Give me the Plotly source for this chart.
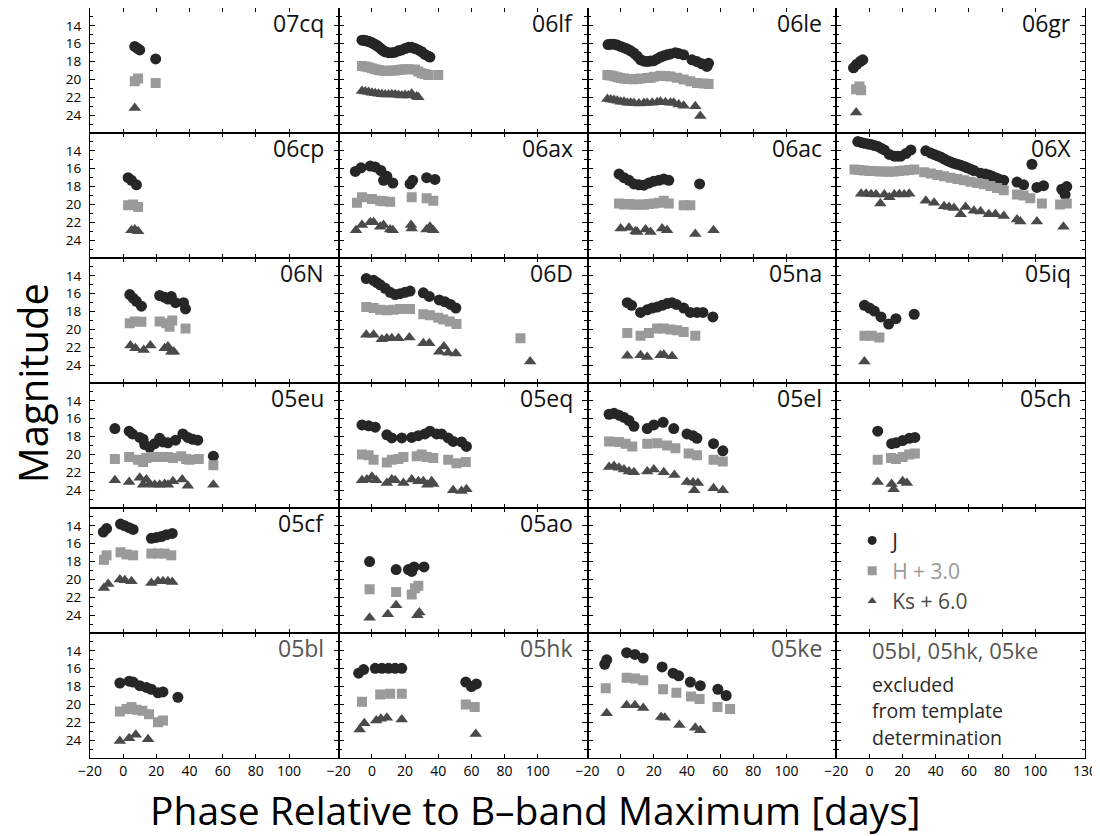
import plotly.graph_objects as go
from plotly.subplots import make_subplots

FONT = "Open Sans"

# ---- data: (phase [days], displayed magnitude) ; H shown as H+3.0, Ks as Ks+6.0 ----
J_07cq = [(7, 16.3), (8.4, 16.5), (10, 16.7), (19.6, 17.7)]
H_07cq = [(7, 20.2), (9, 19.9), (19.6, 20.4)]
K_07cq = [(7, 23.2)]

J_06lf = [(-6, 15.6), (-5, 15.6), (-4, 15.65), (-3, 15.7), (-2, 15.75), (-1, 15.8), (0, 15.9), (1, 16.0),
          (2, 16.1), (3, 16.2), (4, 16.35), (5, 16.5), (6, 16.65), (7, 16.8), (8, 16.9), (10, 17.0),
          (12, 17.0), (14, 16.95), (16, 16.8), (18, 16.7), (20, 16.55), (22, 16.4), (24, 16.4),
          (26, 16.55), (28, 16.7), (30, 16.9), (32, 17.2), (34, 17.4), (35, 17.5)]
H_06lf = [(-6, 18.5), (-4, 18.55), (-2, 18.65), (0, 18.75), (2, 18.85), (4, 18.95), (6, 19.0), (8, 19.05),
          (10, 19.05), (12, 19.0), (14, 19.0), (16, 18.95), (18, 18.9), (20, 18.85), (22, 18.85),
          (26, 18.9), (28, 19.1), (30, 19.3), (32, 19.4), (34, 19.5), (40, 19.5)]
K_06lf = [(-6, 21.3), (-4, 21.35), (-2, 21.4), (0, 21.5), (2, 21.55), (4, 21.6), (6, 21.65), (8, 21.7),
          (10, 21.7), (12, 21.65), (14, 21.7), (16, 21.75), (18, 21.8), (20, 21.75), (22, 21.8),
          (24, 21.6), (27, 21.9), (28, 22.0)]

J_06le = [(-7.6, 16.1), (-6, 16.07), (-4, 16.05), (-2, 16.15), (0, 16.3), (2, 16.45), (4, 16.6), (6, 16.8),
          (8, 17.05), (10, 17.4), (12, 17.8), (14, 17.95), (16, 18.0), (18, 17.95), (20, 17.9), (22, 17.7),
          (24, 17.5), (26, 17.35), (28, 17.25), (30, 17.15), (33, 17.0), (35, 17.1), (38, 17.25),
          (43, 17.8), (46, 18.0), (49, 18.25), (52, 18.55), (53, 18.2)]
H_06le = [(-8, 19.5), (-6, 19.55), (-4, 19.65), (-2, 19.75), (0, 19.85), (2, 19.9), (4, 19.95), (8, 19.97),
          (10, 19.95), (12, 19.9), (16, 19.85), (18, 19.8), (20, 19.7), (24, 19.6), (27, 19.62), (30, 19.67),
          (34, 19.8), (38, 20.0), (42, 20.2), (46, 20.4), (50, 20.45), (53, 20.5)]
K_06le = [(-8, 22.2), (-6, 22.25), (-4, 22.3), (-2, 22.4), (0, 22.5), (2, 22.5), (4, 22.6), (6, 22.6),
          (8, 22.65), (11, 22.7), (14, 22.65), (16, 22.65), (19, 22.6), (22, 22.55), (24, 22.5),
          (27, 22.55), (30, 22.6), (32, 22.6), (35, 22.8), (38, 22.95), (45, 23.0), (48, 24.1)]

J_06gr = [(-9.6, 18.7), (-7.6, 18.3), (-5.6, 18.0), (-4, 17.8)]
H_06gr = [(-8, 21.1), (-6, 20.8), (-5, 21.2)]
K_06gr = [(-8, 23.7)]

J_06cp = [(3, 17.0), (5, 17.3), (8, 17.8)]
H_06cp = [(3, 20.1), (6, 20.0), (9, 20.3)]
K_06cp = [(5, 22.9), (7, 22.8), (9, 23.0)]

J_06ax = [(-10, 16.3), (-6.6, 15.9), (-1, 15.7), (2, 15.8), (5.4, 16.2), (7, 17.3), (9, 16.85),
          (12.6, 17.6), (23, 17.7), (24.6, 17.3), (33, 17.0), (38, 17.2)]
H_06ax = [(-9, 19.8), (-6, 19.2), (0, 19.4), (5, 19.6), (7, 19.65), (11, 19.7), (24, 19.2), (33, 19.3), (37, 19.6)]
K_06ax = [(-9.6, 22.9), (-6, 22.3), (-1, 22.0), (1, 22.0), (5, 22.5), (7, 22.3), (11, 22.8), (12.6, 22.9),
          (24, 22.7), (23.6, 22.3), (33, 22.8), (35, 22.5), (37, 22.9)]

J_06ac = [(-1, 16.6), (2, 17.0), (5, 17.3), (8, 17.7), (11, 17.8), (14, 17.85), (17, 17.6), (20, 17.4),
          (23, 17.3), (26, 17.15), (29, 17.3), (47.6, 17.7)]
H_06ac = [(-1, 19.9), (2, 20.0), (5, 19.95), (8, 20.05), (11, 20.0), (14, 20.05), (17, 19.95), (20, 19.9),
          (23, 19.8), (26, 19.6), (29, 19.9), (38, 20.1), (42, 20.1)]
K_06ac = [(0, 22.7), (5, 22.6), (9, 23.0), (10, 23.1), (15, 22.8), (18, 23.1), (25, 22.7), (28, 22.9),
          (45, 23.3), (56, 22.9)]

J_06X = [(-7, 12.96), (-5, 13.05), (-3, 13.15), (-1, 13.22), (1, 13.3), (3, 13.4), (5, 13.5), (7, 13.7),
         (9, 13.9), (12, 14.4), (15, 14.6), (17, 14.6), (19, 14.6), (22, 14.3), (25, 13.9), (34, 14.0),
         (37, 14.25), (39, 14.4), (41, 14.55), (43, 14.7), (45, 14.9), (47, 15.1), (49, 15.25), (51, 15.4),
         (53, 15.5), (55, 15.6), (57, 15.75), (59, 15.9), (61, 16.05), (63, 16.2), (67, 16.5), (70, 16.6),
         (72, 16.7), (74, 16.85), (76, 17.0), (78, 17.15), (81, 17.3), (89, 17.5), (93, 17.8), (98, 15.5),
         (101, 18.1), (105, 17.9), (116, 18.3), (119, 18.0), (118, 18.9)]
H_06X = [(-9, 16.1), (-6, 16.15), (-3, 16.2), (0, 16.25), (3, 16.25), (6, 16.3), (9, 16.3), (12, 16.35),
         (15, 16.3), (18, 16.25), (21, 16.2), (24, 16.15), (27, 16.1), (33, 16.4), (37, 16.55), (41, 16.7),
         (45, 16.85), (49, 17.0), (53, 17.15), (57, 17.3), (61, 17.45), (65, 17.6), (69, 17.75), (73, 17.95),
         (77, 18.15), (81, 18.4), (89, 18.9), (93, 19.0), (97, 19.3), (104, 19.9), (115, 20.0), (119, 19.9)]
K_06X = [(-5, 18.8), (-2, 18.8), (1, 18.85), (4, 18.9), (6.6, 19.9), (9, 18.9), (12, 19.2), (15, 18.9),
         (18, 18.85), (21, 18.9), (24, 18.8), (34, 19.6), (39, 19.8), (45, 20.2), (48, 20.3), (51, 20.4),
         (55, 21.1), (58, 20.3), (63, 20.7), (67, 20.8), (72, 21.1), (76, 21.1), (81, 21.3), (89, 21.7),
         (91, 21.9), (101, 21.9), (117, 22.5)]

J_06N = [(4, 16.1), (6, 16.5), (8, 16.85), (11, 17.4), (22, 16.2), (25, 16.4), (27, 16.6), (29, 16.3),
         (31.6, 17.0), (36.4, 17.0), (37.6, 17.7)]
H_06N = [(4, 19.3), (7, 19.1), (11, 19.15), (22, 19.1), (26, 19.3), (28, 19.7), (29.6, 19.0), (37.6, 19.9)]
K_06N = [(4.4, 21.8), (7.4, 22.1), (12.4, 22.3), (16.4, 21.8), (25, 22.1), (27, 21.9), (29, 22.5), (30.6, 22.5)]

J_06D = [(-3.4, 14.3), (1, 14.5), (3, 14.75), (5, 15.0), (8, 15.4), (11, 15.85), (14, 16.1), (17, 16.0),
         (20, 15.85), (23, 15.7), (31, 15.9), (34.6, 16.3), (40.6, 16.7), (44, 16.9), (47.4, 17.2), (50.6, 17.6)]
H_06D = [(-3.4, 17.5), (1, 17.6), (5, 17.8), (9, 17.85), (13, 17.8), (17, 17.7), (20, 17.7), (23, 17.7),
         (31, 18.3), (35, 18.4), (40, 18.7), (43, 18.9), (47, 19.1), (51, 19.4), (89.6, 21.0)]
K_06D = [(-3.4, 20.6), (1, 20.6), (6, 21.1), (9, 21.0), (12, 21.0), (16, 21.0), (22.6, 20.9), (31, 21.55),
         (34.6, 21.55), (40.6, 22.5), (43.4, 21.9), (46, 22.6), (50.6, 22.7), (95.4, 23.6)]

J_05na = [(4, 17.0), (6.6, 17.3), (12, 18.1), (16, 17.8), (19, 17.6), (22, 17.5), (25, 17.3), (28, 17.1),
          (31, 17.0), (33.6, 17.2), (38, 17.6), (42, 18.1), (46, 18.1), (49.6, 18.1), (55.6, 18.6)]
H_05na = [(4, 20.4), (12, 20.7), (17, 20.4), (22, 19.9), (26, 19.9), (30, 20.0), (34, 20.1), (38, 20.3), (45, 20.7)]
K_05na = [(4, 22.96), (12, 22.9), (16, 23.1), (24, 22.9), (26, 22.85), (31, 23.0)]

J_05iq = [(-3, 17.3), (0, 17.6), (3, 17.95), (7, 18.6), (11.6, 19.4), (16, 18.8), (27, 18.3)]
H_05iq = [(-3, 20.7), (1.4, 20.7), (6, 20.9)]
K_05iq = [(-3, 23.6)]

J_05eu = [(-5, 17.1), (3.6, 17.4), (5.6, 17.7), (10, 18.1), (12, 18.3), (13, 18.9), (16, 19.2), (19, 18.8),
          (22, 18.2), (24, 18.6), (27, 18.7), (31.6, 18.4), (36, 17.7), (39, 18.1), (42, 18.3), (45, 18.4),
          (54.4, 20.2)]
H_05eu = [(-5, 20.5), (3.6, 20.3), (9, 20.6), (12, 20.85), (14, 20.4), (17, 20.3), (21, 20.3), (27, 20.3),
          (30, 20.4), (35, 20.2), (38, 20.5), (40, 20.6), (45.6, 20.5), (54.4, 21.2)]
K_05eu = [(-5, 22.9), (3.6, 23.1), (10, 22.6), (12, 23.4), (14, 22.8), (16, 23.3), (19, 23.4), (22, 23.4),
          (25, 23.3), (27, 23.4), (30, 23.0), (35.6, 22.8), (39, 23.5), (54.4, 23.4)]

J_05eq = [(-6, 16.7), (-2, 16.8), (2, 16.95), (9, 17.8), (12, 18.15), (18, 18.15), (24, 18.1), (28, 17.9),
          (32, 17.7), (35, 17.4), (39, 17.7), (42, 17.7), (46, 18.15), (49, 18.55), (54, 18.6), (57, 19.1)]
H_05eq = [(-6, 20.0), (-2, 20.1), (1, 20.6), (9, 20.9), (12, 20.6), (16, 20.5), (19, 20.3), (27, 20.2),
          (30, 20.0), (33, 20.3), (37, 20.4), (46, 20.6), (51, 21.0), (56.6, 20.85)]
K_05eq = [(-6, 22.9), (-3, 22.8), (0, 22.5), (2.6, 22.9), (9, 23.2), (12, 22.8), (14, 22.9), (19, 23.2),
          (24, 22.8), (28, 23.0), (31, 23.0), (33.4, 23.4), (36, 23.0), (37, 23.3), (49, 24.0), (54, 24.1),
          (57, 23.9)]

J_05el = [(-7, 15.5), (-4, 15.4), (-1, 15.6), (2, 15.85), (5, 16.2), (8, 16.85), (16, 17.1), (20, 16.7),
          (25.6, 16.4), (32, 17.1), (40, 17.7), (43.6, 17.9), (46, 18.2), (56, 18.8), (61.6, 19.6)]
H_05el = [(-7, 18.55), (-1, 18.6), (3, 18.8), (7, 19.1), (16, 18.8), (22, 18.75), (28, 19.0), (33, 19.3),
          (41, 19.9), (46, 20.1), (56, 20.6), (61.6, 20.8)]
K_05el = [(-7, 21.4), (-4, 21.3), (-1, 21.5), (2, 21.7), (5, 21.9), (8, 22.0), (16, 21.9), (20, 21.7),
          (26, 22.0), (32.4, 22.3), (40, 23.1), (43.6, 23.15), (44.4, 24.0), (46.6, 23.2), (56, 23.8), (61.6, 24.0)]

J_05ch = [(5, 17.4), (13.4, 18.8), (16, 18.7), (20, 18.45), (24, 18.2), (27.4, 18.1)]
H_05ch = [(5, 20.6), (13, 20.4), (16, 20.5), (20, 20.3), (24, 20.0), (27.4, 19.9)]
K_05ch = [(5, 23.1), (13.4, 23.3), (14.6, 23.9), (20, 23.0), (22.6, 23.2)]

J_05cf = [(-12, 14.7), (-10, 14.3), (-1.6, 13.8), (1, 14.0), (3.6, 14.2), (6, 14.4), (17, 15.4), (20, 15.3),
          (23, 15.2), (26, 15.0), (29.6, 14.85)]
H_05cf = [(-11.6, 17.8), (-10, 17.3), (-1.6, 16.96), (2, 17.2), (6, 17.3), (17, 17.1), (21, 17.1), (25, 17.1), (29, 17.3)]
K_05cf = [(-11.6, 20.96), (-9, 20.5), (-2, 20.0), (1, 20.1), (5, 20.2), (17, 20.4), (21, 20.2), (24, 20.2),
          (27, 20.2), (29.6, 20.3)]

J_05ao = [(-1.4, 18.0), (14.6, 18.9), (22, 18.9), (24, 19.1), (25.4, 18.6), (31.4, 18.6)]
H_05ao = [(-1.4, 21.1), (14.6, 21.4), (24, 21.7), (26, 21.0), (28, 20.7)]
K_05ao = [(-1.4, 24.3), (9.6, 23.9), (14.6, 22.9), (27.4, 24.0), (28.6, 23.7)]

J_05bl = [(-2, 17.6), (3.6, 17.4), (6, 17.5), (10, 17.9), (14, 18.1), (17, 18.3), (21, 18.7), (24, 18.6), (33, 19.2)]
H_05bl = [(-2, 20.8), (2, 20.5), (5, 20.3), (8, 20.6), (11.6, 20.7), (15.6, 21.1), (21, 22.0), (24, 21.8)]
K_05bl = [(-2, 24.1), (3.6, 23.8), (7.6, 23.4), (15, 23.9)]

J_05hk = [(-8, 16.5), (-5, 16.1), (2, 15.96), (6, 15.96), (10, 15.96), (14, 15.96), (18, 15.96),
          (56.6, 17.5), (60, 18.0), (63, 17.7)]
H_05hk = [(-6, 19.7), (5, 18.9), (11, 18.8), (18, 18.8), (56.6, 20.0), (62, 20.3)]
K_05hk = [(-7.4, 22.8), (-4.6, 22.1), (2.6, 21.8), (5.4, 21.6), (9, 21.5), (18, 21.7), (62.6, 23.3)]

J_05ke = [(-9.6, 15.5), (-8.4, 15.0), (3.6, 14.2), (8.6, 14.4), (13.6, 14.8), (25, 15.8), (31.6, 16.5),
          (35, 16.8), (42, 17.5), (48, 17.9), (58.6, 18.3), (63.6, 19.0)]
H_05ke = [(-9, 18.2), (3.6, 17.0), (8.6, 17.1), (13.6, 17.3), (25.6, 18.3), (33.6, 18.7), (42.4, 19.1),
          (47.6, 19.4), (58.4, 20.3), (66, 20.5)]
K_05ke = [(-8.4, 21.0), (3.6, 20.1), (8.6, 20.1), (13.6, 20.4), (24.4, 21.4), (26.6, 21.5), (35.4, 22.3),
          (45, 22.6), (48, 22.9)]

# panel layout (row-major, 6 rows x 4 cols); None = empty, "LEG" = legend panel, "TXT" = note panel
panel_names = ["07cq", "06lf", "06le", "06gr",
               "06cp", "06ax", "06ac", "06X",
               "06N", "06D", "05na", "05iq",
               "05eu", "05eq", "05el", "05ch",
               "05cf", "05ao", None, "LEG",
               "05bl", "05hk", "05ke", "TXT"]
excluded = ["05bl", "05hk", "05ke"]
panel_data = {
    "07cq": (J_07cq, H_07cq, K_07cq), "06lf": (J_06lf, H_06lf, K_06lf), "06le": (J_06le, H_06le, K_06le),
    "06gr": (J_06gr, H_06gr, K_06gr), "06cp": (J_06cp, H_06cp, K_06cp), "06ax": (J_06ax, H_06ax, K_06ax),
    "06ac": (J_06ac, H_06ac, K_06ac), "06X": (J_06X, H_06X, K_06X), "06N": (J_06N, H_06N, K_06N),
    "06D": (J_06D, H_06D, K_06D), "05na": (J_05na, H_05na, K_05na), "05iq": (J_05iq, H_05iq, K_05iq),
    "05eu": (J_05eu, H_05eu, K_05eu), "05eq": (J_05eq, H_05eq, K_05eq), "05el": (J_05el, H_05el, K_05el),
    "05ch": (J_05ch, H_05ch, K_05ch), "05cf": (J_05cf, H_05cf, K_05cf), "05ao": (J_05ao, H_05ao, K_05ao),
    "05bl": (J_05bl, H_05bl, K_05bl), "05hk": (J_05hk, H_05hk, K_05hk), "05ke": (J_05ke, H_05ke, K_05ke),
}

band_names = ["J", "H + 3.0", "Ks + 6.0"]
band_colors = ["#262626", "#9a9a9a", "#4a4a4a"]
band_symbols = ["circle", "square", "triangle-up"]
band_sizes = [11, 10, 11]
legend_sizes = [9, 9, 8]

x_ticks = [-20, 0, 20, 40, 60, 80, 100]
x_ticks_last = [-20, 0, 20, 40, 60, 80, 100, 130]
y_ticks = [14, 16, 18, 20, 22, 24]

note_lines = ["excluded", "from template", "determination"]
note_line_y = [0.59, 0.378, 0.166]


def dom(axis, n):
    return f"{axis} domain" if n == 1 else f"{axis}{n} domain"


fig = make_subplots(rows=6, cols=4, horizontal_spacing=0, vertical_spacing=0)

for idx, name in enumerate(panel_names):
    r, c = idx // 4 + 1, idx % 4 + 1
    if name in panel_data:
        for b, pts in enumerate(panel_data[name]):
            fig.add_trace(go.Scatter(
                x=[p[0] for p in pts], y=[p[1] for p in pts], mode="markers",
                marker=dict(symbol=band_symbols[b], size=band_sizes[b], color=band_colors[b], line=dict(width=0)),
                showlegend=False, hoverinfo="skip"), row=r, col=c)
    else:
        fig.add_trace(go.Scatter(x=[None], y=[None], mode="markers", showlegend=False), row=r, col=c)

# legend entries (no data drawn)
for b in range(3):
    fig.add_trace(go.Scatter(
        x=[None], y=[None], mode="markers", name=f"<span style='color:{band_colors[b]}'>{band_names[b]}</span>",
        marker=dict(symbol=band_symbols[b], size=legend_sizes[b], color=band_colors[b]),
        showlegend=True), row=1, col=1)

for idx, name in enumerate(panel_names):
    r, c = idx // 4 + 1, idx % 4 + 1
    fig.update_xaxes(row=r, col=c, range=[-20, 130], tickmode="array",
                     tickvals=(x_ticks_last if c == 4 else x_ticks),
                     showticklabels=(r == 6), ticks="inside", ticklen=4, tickwidth=1, tickcolor="black",
                     showline=True, linecolor="black", linewidth=1.3, mirror="ticks",
                     showgrid=False, zeroline=False,
                     tickfont=dict(family=FONT, size=14, color="black"))
    fig.update_yaxes(row=r, col=c, range=[26, 12], tickmode="array", tickvals=y_ticks,
                     showticklabels=(c == 1), ticks="inside", ticklen=5, tickwidth=1, tickcolor="black",
                     minor=dict(ticks="inside", ticklen=3, tickwidth=1, tickcolor="black", dtick=1, tick0=12,
                                showgrid=False),
                     showline=True, linecolor="black", linewidth=1.3, mirror="ticks",
                     showgrid=False, zeroline=False, ticklabelstandoff=5,
                     tickfont=dict(family=FONT, size=13.5, color="black"))
    if name in panel_data:
        n = idx + 1
        fig.add_annotation(text=name, xref=dom("x", n), yref=dom("y", n),
                           x=0.95, y=0.882, xanchor="right", yanchor="middle", showarrow=False,
                           font=dict(family=FONT, size=23, color=("#555555" if name in excluded else "#111111")))

# note panel
n_txt = panel_names.index("TXT") + 1
fig.add_annotation(text="05bl, 05hk, 05ke", xref=dom("x", n_txt), yref=dom("y", n_txt),
                   x=0.135, y=0.865, xanchor="left", yanchor="middle", showarrow=False,
                   font=dict(family=FONT, size=22, color="#555555"))
for line, ly in zip(note_lines, note_line_y):
    fig.add_annotation(text=line, xref=dom("x", n_txt), yref=dom("y", n_txt),
                       x=0.135, y=ly, xanchor="left", yanchor="middle", showarrow=False,
                       font=dict(family=FONT, size=19.5, color="#2a2a2a"))

# axis titles
fig.add_annotation(text="Phase Relative to B\u2013band Maximum [days]", xref="paper", yref="paper",
                   x=0.447, y=-0.0693, xanchor="center", yanchor="middle", showarrow=False,
                   font=dict(family=FONT, size=39, color="black"))
fig.add_annotation(text="Magnitude", xref="paper", yref="paper", textangle=-90,
                   x=-0.058, y=0.5, xanchor="center", yanchor="middle", showarrow=False,
                   font=dict(family=FONT, size=40, color="black"))

fig.update_layout(
    width=1092, height=828,
    margin=dict(l=82, r=15, t=0, b=78),
    paper_bgcolor="white", plot_bgcolor="white",
    font=dict(family=FONT, color="black"),
    showlegend=True,
    legend=dict(x=0.766, y=0.317, xanchor="left", yanchor="top", bgcolor="rgba(0,0,0,0)",
                font=dict(family=FONT, size=21), itemclick=False, itemdoubleclick=False,
                tracegroupgap=0),
)

fig.write_html("out.html")
